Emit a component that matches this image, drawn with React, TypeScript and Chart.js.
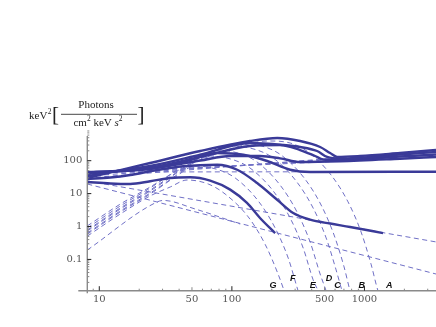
import React, { useEffect, useRef } from 'react';
import { Chart, registerables } from 'chart.js';

Chart.register(...registerables);

type P = [number, number];

// Energy range (keV) and flux range shown
const xRange: P = [8.12, 3464];
const yRange: P = [0.0112, 857];

const xTicks = [10, 50, 100, 500, 1000];
const yTicks = [0.1, 1, 10, 100];

// Total spectra (solid)
const solidA: P[] = [[8.12, 29.8], [14.4, 52], [24.2, 85], [57.7, 197], [137, 397], [220, 490], [327, 397], [463, 261], [551, 171], [622, 130], [926, 139], [1855, 172], [3464, 211]];
const solidB: P[] = [[8.12, 34.3], [14.4, 51], [24.2, 69], [57.7, 152], [137, 345], [244, 300], [327, 261], [439, 197], [523, 130], [655, 115], [1855, 154], [3464, 184]];
const solidC: P[] = [[8.12, 39.4], [24.2, 62], [57.7, 130], [137, 280], [231, 300], [327, 211], [424, 139], [488, 109], [655, 105], [1855, 134], [3464, 154]];
const solidD: P[] = [[8.12, 43.8], [24.2, 58], [57.7, 101], [97, 139], [163, 139], [231, 118], [327, 91], [655, 96], [1855, 115], [3464, 130]];
const solidE: P[] = [[8.12, 45.4], [24.2, 56], [48.5, 105], [77.5, 171], [122, 152], [184.5, 98], [275, 53], [389, 45.4], [3464, 46.3]];
const solidF: P[] = [[8.12, 27.8], [12.1, 30.9], [17.1, 36.8], [24.2, 47.6], [43, 67.6], [77.5, 75.5], [109.6, 53.2], [155, 21], [219.5, 6.5], [290, 2.57], [389, 1.61], [551, 1.23], [779, 0.97], [1381, 0.63]];
const solidG: P[] = [[8.12, 22.5], [12.1, 20.3], [17.1, 19.6], [24.2, 23.7], [34.3, 29.8], [48.5, 31.3], [68.6, 24.7], [97.1, 13.2], [130, 5.2], [163, 1.81], [212, 0.63]];

// Peaked components (dashed)
const bandA: P[] = [[8.12, 1.04], [14.4, 4.8], [24.2, 15.9], [37.4, 45.4], [57.7, 105], [97.1, 227], [188, 397], [275, 345], [376, 184], [560, 36.8], [752, 5.6], [943, 0.68], [1121, 0.072], [1266, 0.011], [1357, 0.0058]];
const bandB: P[] = [[8.12, 0.9], [14.4, 4.2], [24.2, 14.8], [40.8, 60], [68.6, 184], [117.5, 345], [175, 266], [235, 149], [351, 29.8], [471, 4.5], [590, 0.55], [702, 0.059], [779, 0.011], [820, 0.0058]];
const bandC: P[] = [[8.12, 0.78], [14.4, 3.65], [24.2, 12.9], [40.8, 52], [62.9, 149], [102, 280], [152, 216], [205, 121], [305, 24.2], [410, 3.65], [514, 0.45], [611, 0.048], [678, 0.011], [714, 0.0058]];
const bandD: P[] = [[8.12, 0.73], [14.4, 3.4], [24.2, 12], [37.4, 39.4], [52.9, 105], [77.5, 211], [115.5, 163], [155, 91], [231, 18.2], [310, 2.76], [389, 0.34], [463, 0.036], [514, 0.011], [541, 0.0058]];
const bandE: P[] = [[8.12, 0.63], [14.4, 2.96], [24.2, 10.4], [37.4, 34.3], [51.1, 85], [68.6, 139], [102, 107], [137, 60], [205, 12], [275, 1.81], [345, 0.222], [410, 0.024], [447, 0.011], [471, 0.0058]];
const bandF: P[] = [[8.12, 0.59], [14.4, 2.76], [24.2, 9.7], [37.4, 32], [52.9, 69], [78.9, 53.2], [106, 29.8], [158, 6], [212, 0.9], [266, 0.11], [316, 0.011], [333, 0.0058]];
const bandG: P[] = [[8.12, 0.51], [14.4, 2.4], [24.2, 8.5], [34.3, 15.9], [46, 25.9], [66.3, 19.6], [89, 9.7], [133, 1.95], [178, 0.29], [223, 0.036], [248, 0.011], [261, 0.0058]];
const lowBand: P[] = [[8.12, 0.193], [27.4, 5.6], [30.4, 6.2], [52.9, 3.4], [115.5, 1.19]];

// Power-law components (dashed)
const plA: P[] = [[8.12, 29.8], [3464, 211]];
const plB: P[] = [[8.12, 34.3], [3464, 184]];
const plC: P[] = [[8.12, 39.4], [3464, 154]];
const plD: P[] = [[8.12, 43.8], [3464, 130]];
const plE: P[] = [[8.12, 45.4], [3464, 46.3]];
const plF: P[] = [[8.12, 24.2], [3464, 0.34]];
const plG: P[] = [[8.12, 19.6], [3464, 0.036]];

// Curve labels
const curveLabels = ['A', 'B', 'C', 'D', 'E', 'F', 'G'];
const labelEnergies = [1540, 954, 625, 541, 408, 288, 204];
const labelLevels = [0.0156, 0.0156, 0.0156, 0.0272, 0.0156, 0.0272, 0.0156];

const SOLID = 'rgb(58,58,152)';
const DASH = 'rgb(112,112,198)';

const decor = {
  id: 'decor',
  afterDraw(chart: any) {
    const { ctx, chartArea: a } = chart;
    const x = chart.scales.x;
    const y = chart.scales.y;
    const seg = (x1: number, y1: number, x2: number, y2: number) => {
      ctx.beginPath();
      ctx.moveTo(x1, y1);
      ctx.lineTo(x2, y2);
      ctx.stroke();
    };
    ctx.save();
    // axes
    ctx.strokeStyle = '#8a8a8a';
    ctx.lineWidth = 1.4;
    seg(a.left, a.top + 6, a.left, a.bottom + 2.5);
    seg(a.left - 9, a.bottom, a.right, a.bottom);
    // x ticks
    ctx.lineWidth = 1;
    for (let d = 0; d <= 3; d++) {
      for (let m = 1; m <= 9; m++) {
        const v = m * Math.pow(10, d);
        if (v < x.min || v > x.max) continue;
        const px = x.getPixelForValue(v);
        const len = m === 1 ? 4.5 : m === 5 ? 3.5 : 2;
        ctx.strokeStyle = m === 1 ? '#222' : '#888';
        seg(px, a.bottom, px, a.bottom - len);
      }
    }
    // y ticks
    for (let d = -2; d <= 2; d++) {
      for (let m = 1; m <= 9; m++) {
        const v = m * Math.pow(10, d);
        if (v < y.min || v > y.max) continue;
        const py = y.getPixelForValue(v);
        const len = m === 1 ? 4 : 2;
        ctx.strokeStyle = m === 1 ? '#222' : '#888';
        seg(a.left, py, a.left + len, py);
      }
    }
    // curve labels
    ctx.fillStyle = '#111';
    ctx.font = 'italic bold 9px "Liberation Sans"';
    ctx.textAlign = 'center';
    ctx.textBaseline = 'middle';
    curveLabels.forEach((t, i) => {
      ctx.fillText(t, x.getPixelForValue(labelEnergies[i]), y.getPixelForValue(labelLevels[i]));
    });
    // axis title
    ctx.fillStyle = '#222';
    ctx.strokeStyle = '#333';
    ctx.textAlign = 'left';
    ctx.textBaseline = 'alphabetic';
    ctx.font = '11px "Liberation Serif"';
    ctx.fillText('keV', 29, 119);
    const kw = ctx.measureText('keV').width;
    ctx.font = '7.5px "Liberation Serif"';
    ctx.fillText('2', 29 + kw + 0.5, 114);
    ctx.font = '21px "Liberation Serif"';
    ctx.fillText('[', 52, 120.5);
    ctx.fillText(']', 137.5, 120.5);
    ctx.font = '11px "Liberation Serif"';
    ctx.textAlign = 'center';
    ctx.fillText('Photons', 96, 108);
    ctx.lineWidth = 0.9;
    seg(61, 114.3, 137, 114.3);
    // denominator
    const parts: [string, string, number][] = [
      ['cm', '11px "Liberation Serif"', 0],
      ['2', '7.5px "Liberation Serif"', -4.5],
      [' keV ', '11px "Liberation Serif"', 0],
      ['s', 'italic 11px "Liberation Serif"', 0],
      ['2', '7.5px "Liberation Serif"', -4.5],
    ];
    ctx.textAlign = 'left';
    let total = 0;
    parts.forEach(([t, f]) => { ctx.font = f; total += ctx.measureText(t).width; });
    let cx = 98 - total / 2;
    parts.forEach(([t, f, dy]) => {
      ctx.font = f;
      ctx.fillText(t, cx, 125.5 + dy);
      cx += ctx.measureText(t).width;
    });
    ctx.restore();
  },
};

export default function App() {
  const ref = useRef<HTMLCanvasElement>(null);
  useEffect(() => {
    const canvas = ref.current;
    if (!canvas) return;
    const toXY = (arr: P[]) => arr.map(([vx, vy]) => ({ x: vx, y: vy }));
    const solids = [solidA, solidB, solidC, solidD, solidE, solidF, solidG];
    const dashed = [bandA, bandB, bandC, bandD, bandE, bandF, bandG, lowBand, plA, plB, plC, plD, plE, plF, plG];
    const datasets: any[] = [
      ...solids.map((s) => ({
        data: toXY(s),
        borderColor: SOLID,
        borderWidth: 2.4,
        pointRadius: 0,
        showLine: true,
        fill: false,
        cubicInterpolationMode: 'monotone',
      })),
      ...dashed.map((s) => ({
        data: toXY(s),
        borderColor: DASH,
        borderWidth: 1,
        borderDash: [5, 3.5],
        pointRadius: 0,
        showLine: true,
        fill: false,
        cubicInterpolationMode: 'monotone',
      })),
    ];
    const tickFont = { family: '"DejaVu Serif"', size: 10 };
    const chart = new Chart(canvas, {
      type: 'scatter',
      data: { datasets },
      options: {
        animation: false,
        responsive: false,
        devicePixelRatio: 1,
        layout: { padding: { top: 130, left: 0, right: 0, bottom: 0 } },
        plugins: { legend: { display: false }, tooltip: { enabled: false } },
        scales: {
          x: {
            type: 'logarithmic',
            min: xRange[0],
            max: xRange[1],
            grid: { display: false, drawTicks: false },
            border: { display: false },
            afterBuildTicks: (s: any) => { s.ticks = xTicks.map((v) => ({ value: v })); },
            afterFit: (s: any) => { s.height = 36.3; },
            ticks: {
              autoSkip: false,
              maxRotation: 0,
              padding: 3,
              color: '#555',
              font: tickFont,
              callback: (v: any) => String(v),
            },
          },
          y: {
            type: 'logarithmic',
            min: yRange[0],
            max: yRange[1],
            grid: { display: false, drawTicks: false },
            border: { display: false },
            afterBuildTicks: (s: any) => { s.ticks = yTicks.map((v) => ({ value: v })); },
            afterFit: (s: any) => { s.width = 87.3; },
            ticks: {
              autoSkip: false,
              padding: 5,
              color: '#555',
              font: tickFont,
              callback: (v: any) => String(v),
            },
          },
        },
      } as any,
      plugins: [decor],
    });
    return () => chart.destroy();
  }, []);
  return (
    <div style={{ position: 'absolute', left: 0, top: 0, width: 436, height: 327, background: '#fff' }}>
      <canvas ref={ref} width={436} height={327} style={{ display: 'block' }} />
    </div>
  );
}
